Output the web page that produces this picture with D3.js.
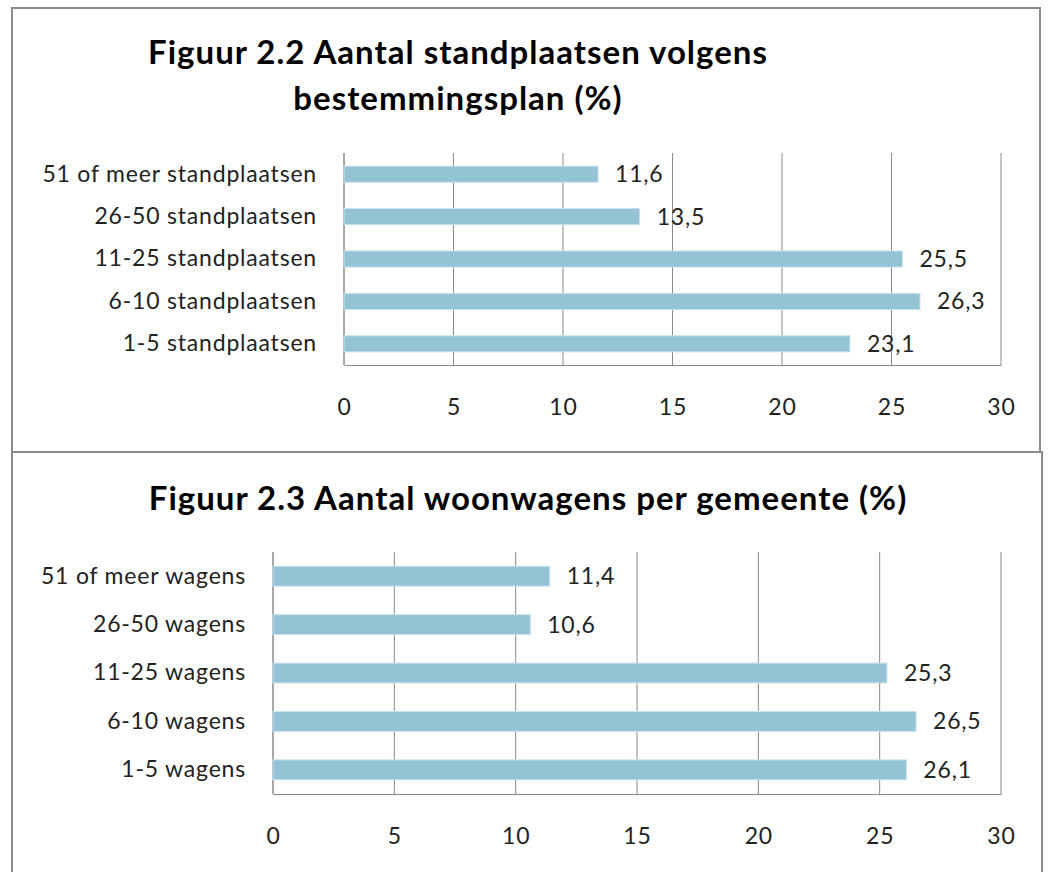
<!DOCTYPE html>
<html>
<head>
<meta charset="utf-8">
<script src="https://cdn.jsdelivr.net/npm/d3@7"></script>
<style>
  body { margin: 0; background: #fff; }
  text { font-family: Lato, "Open Sans", sans-serif; }
</style>
</head>
<body>
<div id="vis-parent"></div>
<script>
// data
var standCategories = ['51 of meer standplaatsen', '26-50 standplaatsen', '11-25 standplaatsen', '6-10 standplaatsen', '1-5 standplaatsen'],
    standValues = [11.6, 13.5, 25.5, 26.3, 23.1];

var wagenCategories = ['51 of meer wagens', '26-50 wagens', '11-25 wagens', '6-10 wagens', '1-5 wagens'],
    wagenValues = [11.4, 10.6, 25.3, 26.5, 26.1];

var xTicks = [0, 5, 10, 15, 20, 25, 30];

var width = 1048, height = 872;
var barColor = '#93c3d5',
    gridColor = '#8a8a8a',
    frameColor = '#8c8c8c',
    labelSize = 23,
    labelSpacing = 0.8;

var nl = d3.formatLocale({ decimal: ',', thousands: '.', grouping: [3], currency: ['€', ''] });
var fmt = nl.format('.1f');

var svg = d3.select('#vis-parent').append('svg')
    .attr('width', width)
    .attr('height', height);

// panel frames
svg.append('rect')
  .attr('x', 12).attr('y', 8)
  .attr('width', 1028).attr('height', 444)
  .attr('fill', 'none')
  .attr('stroke', frameColor)
  .attr('stroke-width', 2);

svg.append('rect')
  .attr('x', 12).attr('y', 452)
  .attr('width', 1030).attr('height', 440)
  .attr('fill', 'none')
  .attr('stroke', frameColor)
  .attr('stroke-width', 2);

drawPanel({
  title: ['Figuur 2.2 Aantal standplaatsen volgens', 'bestemmingsplan (%)'],
  titleX: 458, titleY: 64, lineGap: 46,
  categories: standCategories,
  values: standValues,
  left: 344, right: 1001, top: 153, bottom: 365,
  padding: 0.62
});

drawPanel({
  title: ['Figuur 2.3 Aantal woonwagens per gemeente (%)'],
  titleX: 528, titleY: 510, lineGap: 0,
  categories: wagenCategories,
  values: wagenValues,
  left: 273, right: 1001, top: 552, bottom: 794,
  padding: 0.59
});

function drawPanel(cfg) {
  var x = d3.scaleLinear()
    .domain([0, 30])
    .range([cfg.left, cfg.right]);

  var y = d3.scaleBand()
    .domain(cfg.categories)
    .range([cfg.top, cfg.bottom])
    .paddingInner(cfg.padding)
    .paddingOuter(cfg.padding / 2);

  var g = svg.append('g');

  // title
  g.selectAll('.title')
    .data(cfg.title)
    .enter().append('text')
      .attr('class', 'title')
      .attr('x', cfg.titleX)
      .attr('y', function(d, i){ return cfg.titleY + i*cfg.lineGap; })
      .attr('text-anchor', 'middle')
      .attr('font-size', 33)
      .attr('font-weight', 'bold')
      .attr('letter-spacing', 1)
      .attr('fill', '#000')
      .text(function(d){ return d; });

  // vertical gridlines
  g.selectAll('.grid')
    .data(xTicks)
    .enter().append('line')
      .attr('class', 'grid')
      .attr('x1', function(d){ return x(d); })
      .attr('x2', function(d){ return x(d); })
      .attr('y1', cfg.top)
      .attr('y2', cfg.bottom)
      .attr('stroke', gridColor)
      .attr('stroke-width', 1);

  // x axis
  var xAxis = d3.axisBottom(x)
    .tickValues(xTicks)
    .tickSize(0)
    .tickPadding(34)
    .tickFormat(d3.format('d'));

  var xg = g.append('g')
    .attr('transform', 'translate(0,' + cfg.bottom + ')')
    .call(xAxis);
  xg.select('.domain').attr('stroke', gridColor);
  xg.selectAll('text')
    .attr('font-size', labelSize)
    .attr('letter-spacing', labelSpacing)
    .attr('font-family', 'Lato, sans-serif')
    .attr('fill', '#222');

  // y axis
  var yAxis = d3.axisLeft(y)
    .tickSize(0)
    .tickPadding(27);

  var yg = g.append('g')
    .attr('transform', 'translate(' + cfg.left + ',0)')
    .call(yAxis);
  yg.select('.domain').remove();
  yg.selectAll('text')
    .attr('font-size', labelSize)
    .attr('letter-spacing', labelSpacing)
    .attr('font-family', 'Lato, sans-serif')
    .attr('fill', '#222');

  g.append('line')
    .attr('x1', cfg.left).attr('x2', cfg.left)
    .attr('y1', cfg.top).attr('y2', cfg.bottom)
    .attr('stroke', gridColor);

  // bars
  g.selectAll('.bar')
    .data(cfg.values)
    .enter().append('rect')
      .attr('class', 'bar')
      .attr('x', x(0))
      .attr('y', function(d, i){ return y(cfg.categories[i]); })
      .attr('width', function(d){ return x(d) - x(0); })
      .attr('height', y.bandwidth())
      .attr('fill', barColor)
      .attr('stroke', '#c9e2ec')
      .attr('stroke-width', 1);

  // value labels
  g.selectAll('.val')
    .data(cfg.values)
    .enter().append('text')
      .attr('class', 'val')
      .attr('x', function(d){ return x(d) + 17; })
      .attr('y', function(d, i){ return y(cfg.categories[i]) + y.bandwidth()/2; })
      .attr('dy', '0.35em')
      .attr('font-size', labelSize)
      .attr('letter-spacing', labelSpacing)
      .attr('fill', '#222')
      .text(function(d){ return fmt(d); });
}
</script>
</body>
</html>
